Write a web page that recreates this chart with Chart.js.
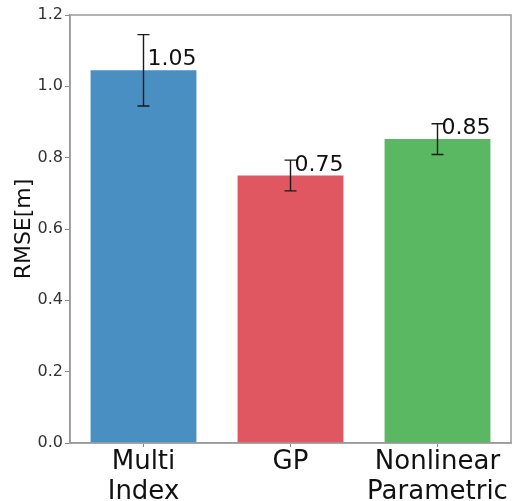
<!DOCTYPE html>
<html>
<head>
<meta charset="utf-8">
<script src="https://cdn.jsdelivr.net/npm/chart.js@4"></script>
<style>
  html, body { margin: 0; padding: 0; background: #fff; }
  #wrap { width: 515px; height: 501px; }
</style>
</head>
<body>
<div id="wrap"><canvas id="chart" width="515" height="501"></canvas></div>
<script>
const categories = [["Multi", "Index"], "GP", ["Nonlinear", "Parametric"]];
const rmse = [1.045, 0.75, 0.852];
const rmseErr = [0.10, 0.043, 0.043];
const valueLabels = ["1.05", "0.75", "0.85"];
const barColors = ["#4a8fc2", "#e05761", "#5ab862"];
const yTicks = [0, 0.2, 0.4, 0.6, 0.8, 1.0, 1.2];

// error bars, value labels and the box around the plot
const extras = {
  id: 'extras',
  afterDatasetsDraw(chart) {
    const ctx = chart.ctx;
    const y = chart.scales.y;
    const bars = chart.getDatasetMeta(0).data;
    ctx.save();
    ctx.strokeStyle = '#1a1a1a';
    ctx.lineWidth = 1.4;
    bars.forEach((bar, i) => {
      const top = y.getPixelForValue(rmse[i] + rmseErr[i]);
      const bot = y.getPixelForValue(rmse[i] - rmseErr[i]);
      ctx.beginPath();
      ctx.moveTo(bar.x, top); ctx.lineTo(bar.x, bot);
      ctx.moveTo(bar.x - 6, top); ctx.lineTo(bar.x + 6, top);
      ctx.moveTo(bar.x - 6, bot); ctx.lineTo(bar.x + 6, bot);
      ctx.stroke();
    });
    ctx.fillStyle = '#111';
    ctx.font = '22px "DejaVu Sans"';
    ctx.textAlign = 'left';
    ctx.textBaseline = 'alphabetic';
    bars.forEach((bar, i) => {
      ctx.fillText(valueLabels[i], bar.x + 4, bar.y - 5);
    });
    const a = chart.chartArea;
    ctx.strokeStyle = '#9a9a9a';
    ctx.lineWidth = 1.5;
    ctx.strokeRect(a.left, a.top, a.right - a.left, a.bottom - a.top);
    ctx.restore();
  }
};

new Chart(document.getElementById('chart'), {
  type: 'bar',
  data: {
    labels: categories,
    datasets: [{
      data: rmse,
      backgroundColor: barColors,
      borderWidth: 0,
      barPercentage: 0.72,
      categoryPercentage: 1.0
    }]
  },
  options: {
    responsive: false,
    animation: false,
    layout: { padding: { top: 15, right: 4, left: 0, bottom: 0 } },
    plugins: { legend: { display: false }, tooltip: { enabled: false } },
    scales: {
      x: {
        grid: { display: true, offset: false, drawOnChartArea: false, tickLength: 4, color: '#888' },
        border: { display: true, color: '#9a9a9a', width: 1.5 },
        ticks: {
          color: '#111',
          padding: 0,
          maxRotation: 0,
          font: { family: 'DejaVu Sans', size: 26, lineHeight: 1.17 }
        },
        afterFit: (s) => { s.height = 58; }
      },
      y: {
        min: 0,
        max: 1.2,
        afterBuildTicks: (s) => { s.ticks = yTicks.map(v => ({ value: v })); },
        grid: { display: true, drawOnChartArea: false, tickLength: 5, color: '#888' },
        border: { display: true, color: '#9a9a9a', width: 1.5 },
        ticks: {
          color: '#333',
          padding: 2,
          font: { family: 'DejaVu Sans', size: 16 },
          callback: (v) => Number(v).toFixed(1)
        },
        title: {
          display: true,
          text: 'RMSE[m]',
          color: '#111',
          font: { family: 'DejaVu Sans', size: 22 },
          padding: { top: 11, bottom: 0 }
        },
        afterFit: (s) => { s.width = 70; }
      }
    }
  },
  plugins: [extras]
});
</script>
</body>
</html>
